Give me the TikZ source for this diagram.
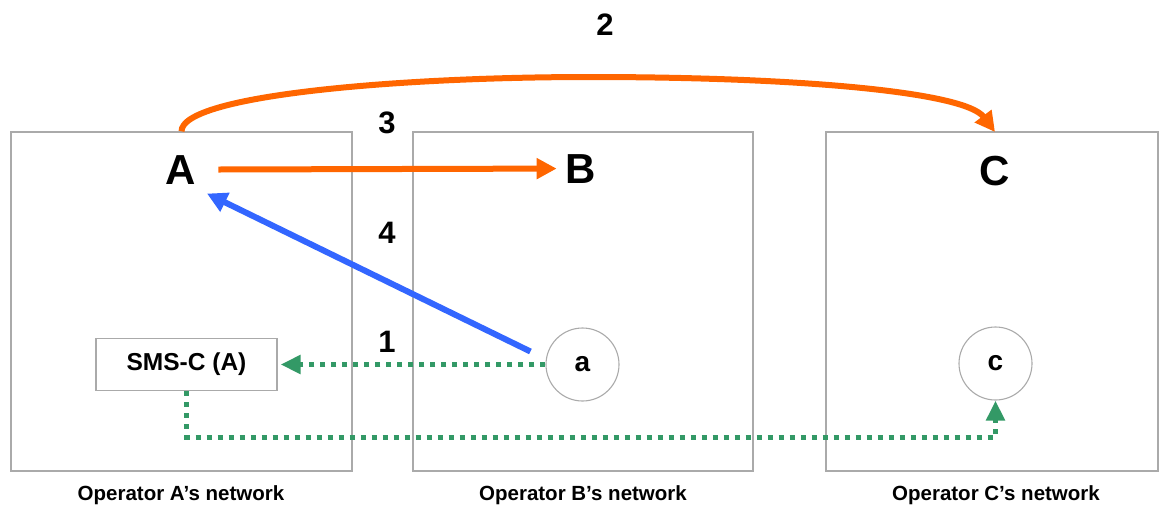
\documentclass[tikz,border=0pt]{standalone}
\usepackage{fontspec}
\setmainfont{Liberation Sans}
\usetikzlibrary{arrows.meta,calc}
\definecolor{netgray}{RGB}{170,170,170}
\definecolor{flowOrange}{RGB}{255,102,0}
\definecolor{flowBlue}{RGB}{51,102,255}
\definecolor{flowGreen}{RGB}{51,153,102}
\begin{document}
\begin{tikzpicture}[x=1pt,y=-1pt,
  network/.style={draw=netgray,line width=1.3pt,minimum height=339pt,inner sep=0pt},
  hostname/.style={font=\fontsize{42}{48}\selectfont\bfseries,inner sep=3pt,anchor=base},
  netlabel/.style={font=\fontsize{20.5}{24}\selectfont\bfseries,inner sep=0pt,anchor=base},
  steplabel/.style={font=\fontsize{31}{36}\selectfont\bfseries,inner sep=0pt,anchor=base},
  terminal/.style={circle,draw=netgray,line width=1.1pt,minimum size=73pt,inner sep=0pt,font=\fontsize{28}{32}\selectfont\bfseries},
  smsbox/.style={draw=netgray,line width=1.1pt,minimum width=181pt,minimum height=52pt,inner sep=0pt,font=\fontsize{24.5}{28}\selectfont\bfseries},
  orangeflow/.style={draw=flowOrange,line width=6pt,-{Triangle[length=20pt,width=20pt]}},
  blueflow/.style={draw=flowBlue,line width=6pt,-{Triangle[length=20pt,width=20pt]}},
  greenflow/.style={draw=flowGreen,line width=5pt,dash pattern=on 5pt off 6pt,-{Triangle[length=20pt,width=18pt]}}
]
\useasboundingbox (0,0) rectangle (1159,507);

% operator networks
\node[network,minimum width=341pt] (netA) at (181.5,301.5) {};
\node[network,minimum width=340pt] (netB) at (583,301.5) {};
\node[network,minimum width=332pt] (netC) at (992,301.5) {};
\node[netlabel] (labA) at (181,500) {Operator A’s network};
\node[netlabel] (labB) at (583,500) {Operator B’s network};
\node[netlabel] (labC) at (996,500) {Operator C’s network};

% operators
\node[hostname] (A) at (181,184) {A};
\node[hostname] (B) at (581,183) {B};
\node[hostname] (C) at (995,185) {C};

% SMS centre and terminals
\node[smsbox] (sms) at (186.5,364.5) {SMS-C (A)};
\node[terminal] (a) at (582.5,364.5) {a};
\node[terminal] (c) at (995.5,363.5) {c};

% step numbers
\node[steplabel] (s2) at (605,35) {2};
\node[steplabel] (s3) at (387,133) {3};
\node[steplabel] (s4) at (387,243) {4};
\node[steplabel] (s1) at (387,352) {1};

% message flows
\coordinate (arcTop) at (590,77);
\coordinate (arcEnd) at (995,132);
\draw[orangeflow] (netA.north) .. controls (181.5,95) and (400,77) .. (arcTop)
  .. controls (800,77) and (965,92) .. (arcEnd);
\draw[orangeflow,shorten <=19pt,shorten >=6pt] (A.east) -- (B.west);
\coordinate (blueStart) at ([shift={(-15,-13)}]a.west);
\coordinate (blueEnd) at ([shift={(26,24)}]A.center);
\draw[blueflow] (blueStart) -- (blueEnd);
\draw[greenflow,shorten >=3pt] (a.west) -- (sms.east);
\coordinate (turn) at (186.5,437);
\draw[greenflow] (sms.south) -- (turn) -| (c.south);
\end{tikzpicture}
\end{document}
